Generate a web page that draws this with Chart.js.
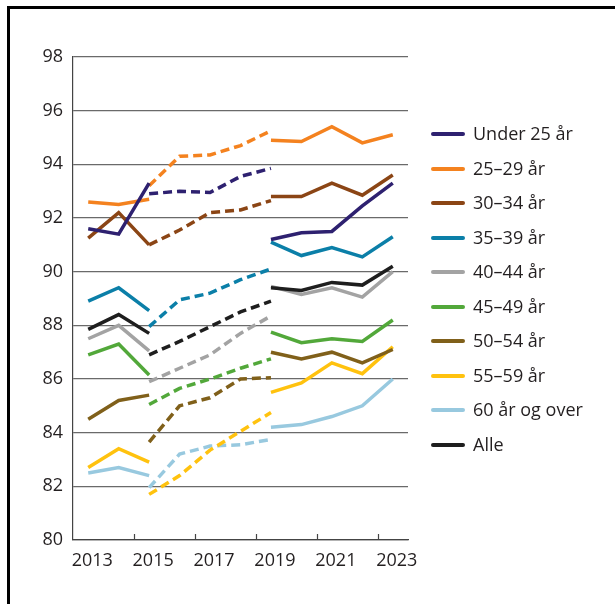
<!DOCTYPE html>
<html>
<head>
<meta charset="utf-8">
<script src="https://cdn.jsdelivr.net/npm/chart.js@4/dist/chart.umd.min.js"></script>
<style>
  html, body { margin: 0; padding: 0; background: #fff; }
  body { width: 615px; height: 604px; position: relative; overflow: hidden; font-family: 'Open Sans', sans-serif; }
  #frame { position: absolute; left: 7px; top: 6px; width: 700px; height: 700px; border-left: 3px solid #000; border-top: 3px solid #000; }
  #wrap { position: absolute; left: 0; top: 0; width: 615px; height: 604px; }
  #legend { position: absolute; left: 431px; top: 0; }
  .item { position: absolute; left: 0; white-space: nowrap; height: 24px; }
  .item span.ln { position: absolute; left: 0; top: 10px; width: 34px; height: 4px; border-radius: 2px; }
  .item span.tx { position: absolute; left: 42px; top: -1px; font-size: 18px; color: #231f20; line-height: 24px; }
</style>
</head>
<body>
<div id="frame"></div>
<div id="wrap"><canvas id="chart" width="615" height="604"></canvas></div>
<div id="legend"></div>
<script>
const groups = ['Under 25 år', '25–29 år', '30–34 år', '35–39 år', '40–44 år', '45–49 år', '50–54 år', '55–59 år', '60 år og over', 'Alle'];
const colors = ['#2e2170', '#f4821f', '#8b4515', '#0b7fa8', '#a3a3a3', '#52a83a', '#80601a', '#ffc20e', '#98c9df', '#1e1e1e'];

const yearsA = [2013, 2014, 2015];
const yearsB = [2015, 2016, 2017, 2018, 2019];
const yearsC = [2019, 2020, 2021, 2022, 2023];

// 2013-2015, solid
const valuesA = [
  [91.6, 91.4, 93.3],
  [92.6, 92.5, 92.7],
  [91.25, 92.2, 91.0],
  [88.9, 89.4, 88.55],
  [87.5, 88.0, 87.05],
  [86.9, 87.3, 86.15],
  [84.5, 85.2, 85.4],
  [82.7, 83.4, 82.9],
  [82.5, 82.7, 82.4],
  [87.85, 88.4, 87.7]
];
// 2015-2019, dashed
const valuesB = [
  [92.9, 93.0, 92.95, 93.55, 93.85],
  [93.2, 94.3, 94.35, 94.7, 95.25],
  [91.0, 91.55, 92.2, 92.3, 92.65],
  [87.95, 88.95, 89.2, 89.7, 90.1],
  [85.9, 86.4, 86.9, 87.7, 88.35],
  [85.05, 85.65, 86.0, 86.4, 86.75],
  [83.65, 85.0, 85.3, 86.0, 86.05],
  [81.7, 82.4, 83.35, 84.05, 84.75],
  [81.95, 83.2, 83.5, 83.55, 83.75],
  [86.9, 87.4, 87.95, 88.5, 88.9]
];
// 2019-2023, solid
const valuesC = [
  [91.2, 91.45, 91.5, 92.45, 93.3],
  [94.9, 94.85, 95.4, 94.8, 95.1],
  [92.8, 92.8, 93.3, 92.85, 93.6],
  [91.1, 90.6, 90.9, 90.55, 91.3],
  [89.45, 89.15, 89.4, 89.05, 90.0],
  [87.75, 87.35, 87.5, 87.4, 88.2],
  [87.0, 86.75, 87.0, 86.6, 87.1],
  [85.5, 85.85, 86.6, 86.2, 87.2],
  [84.2, 84.3, 84.6, 85.0, 86.0],
  [89.4, 89.3, 89.6, 89.5, 90.2]
];

const yTicks = [80, 82, 84, 86, 88, 90, 92, 94, 96, 98];
const xLabels = [2013, 2015, 2017, 2019, 2021, 2023];
const xTickMarks = [2014.5, 2016.5, 2018.5, 2020.5, 2022.5];

function pts(xs, ys) {
  return xs.map((x, i) => ({ x: x, y: ys[i] }));
}

const datasets = [];
groups.forEach((g, i) => {
  const base = {
    label: g,
    borderColor: colors[i],
    borderWidth: 3.5,
    pointRadius: 0,
    tension: 0,
    fill: false,
    order: i === groups.length - 1 ? 0 : 1
  };
  datasets.push(Object.assign({}, base, { data: pts(yearsA, valuesA[i]) }));
  datasets.push(Object.assign({}, base, { data: pts(yearsB, valuesB[i]), borderDash: [9, 5] }));
  datasets.push(Object.assign({}, base, { data: pts(yearsC, valuesC[i]) }));
});

const innerTicks = {
  id: 'innerTicks',
  afterDatasetsDraw(chart) {
    const ctx = chart.ctx;
    const x = chart.scales.x;
    const bottom = chart.chartArea.bottom;
    ctx.save();
    ctx.strokeStyle = '#444';
    ctx.lineWidth = 1.2;
    xTickMarks.forEach(v => {
      const px = Math.round(x.getPixelForValue(v)) + 0.5;
      ctx.beginPath();
      ctx.moveTo(px, bottom);
      ctx.lineTo(px, bottom - 6);
      ctx.stroke();
    });
    ctx.restore();
  }
};

new Chart(document.getElementById('chart'), {
  type: 'line',
  data: { datasets },
  plugins: [innerTicks],
  options: {
    responsive: false,
    animation: false,
    layout: { padding: { left: 0, top: 57, right: 207, bottom: 0 } },
    plugins: { legend: { display: false }, tooltip: { enabled: false } },
    scales: {
      x: {
        type: 'linear',
        min: 2012.5,
        max: 2023.5,
        afterFit(scale) { scale.height = 64; },
        afterBuildTicks(scale) { scale.ticks = xLabels.map(v => ({ value: v })); },
        grid: { display: false, drawTicks: false },
        border: { display: true, color: '#444', width: 1.2 },
        ticks: {
          padding: 10,
          labelOffset: 4,
          color: '#231f20',
          font: { family: 'Open Sans', size: 18 },
          maxRotation: 0,
          autoSkip: false,
          callback: v => String(v)
        }
      },
      y: {
        min: 80,
        max: 98,
        afterFit(scale) { scale.width = 73; },
        afterBuildTicks(scale) { scale.ticks = yTicks.map(v => ({ value: v })); },
        grid: { color: '#6a6a6a', lineWidth: 1.2, drawTicks: false },
        border: { display: true, color: '#444', width: 1.2 },
        ticks: {
          padding: 10,
          color: '#231f20',
          font: { family: 'Open Sans', size: 18 }
        }
      }
    }
  }
});

const legend = document.getElementById('legend');
const rowTops = 122;
groups.forEach((g, i) => {
  const d = document.createElement('div');
  d.className = 'item';
  d.style.top = (rowTops + i * 34.5) + 'px';
  d.innerHTML = '<span class="ln" style="background:' + colors[i] + '"></span><span class="tx">' + g + '</span>';
  legend.appendChild(d);
});
</script>
</body>
</html>
